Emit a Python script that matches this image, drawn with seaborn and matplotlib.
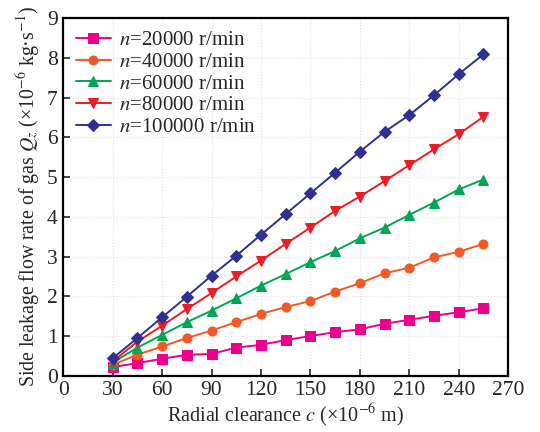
import matplotlib
matplotlib.use("Agg")
import matplotlib.pyplot as plt
import seaborn as sns
import pandas as pd

clearance = [30, 45, 60, 75, 90, 105, 120, 135, 150, 165, 180, 195, 210, 225, 240, 255]
q_20000 = [0.22, 0.32, 0.43, 0.53, 0.55, 0.71, 0.78, 0.90, 1.00, 1.10, 1.17, 1.31, 1.41, 1.51, 1.60, 1.70]
q_40000 = [0.28, 0.53, 0.74, 0.95, 1.14, 1.35, 1.56, 1.73, 1.88, 2.12, 2.33, 2.58, 2.72, 2.98, 3.12, 3.32]
q_60000 = [0.33, 0.71, 1.03, 1.35, 1.64, 1.95, 2.27, 2.56, 2.86, 3.14, 3.46, 3.73, 4.05, 4.36, 4.69, 4.94]
q_80000 = [0.36, 0.86, 1.26, 1.68, 2.08, 2.50, 2.90, 3.32, 3.73, 4.15, 4.51, 4.90, 5.30, 5.70, 6.08, 6.52]
q_100000 = [0.44, 0.95, 1.47, 1.99, 2.52, 3.02, 3.55, 4.07, 4.59, 5.11, 5.64, 6.14, 6.56, 7.06, 7.59, 8.09]
labels = ["$n$=20000 r/min", "$n$=40000 r/min", "$n$=60000 r/min", "$n$=80000 r/min", "$n$=100000 r/min"]

series = [q_20000, q_40000, q_60000, q_80000, q_100000]
rows = []
for lab, vals in zip(labels, series):
    for x, y in zip(clearance, vals):
        rows.append({"c": x, "Q": y, "speed": lab})
df = pd.DataFrame(rows)

sns.set_style("white")
plt.rcParams["font.family"] = ["Liberation Serif", "DejaVu Serif"]
plt.rcParams["mathtext.fontset"] = "stix"

colors = ["#EC008C", "#F15A24", "#00A651", "#ED1C24", "#2E3192"]
markers = ["s", "o", "^", "v", "D"]
palette = dict(zip(labels, colors))
mdict = dict(zip(labels, markers))

fig = plt.figure(figsize=(5.4, 4.32), dpi=100)
ax = fig.add_axes([0.117, 0.13, 0.824, 0.828])

sns.lineplot(data=df, x="c", y="Q", hue="speed", style="speed", palette=palette,
             markers=mdict, dashes=False, markersize=6.5,
             linewidth=1.4, ax=ax, legend=True)
for ln in ax.lines:
    ln.set_markeredgecolor(ln.get_color())

ax.set_xlim(0, 270)
ax.set_ylim(0, 9)
ax.set_xticks(range(0, 271, 30))
ax.set_yticks(range(0, 10))
ax.grid(True, color="#e2e2e2", linestyle=":", linewidth=0.8)
for s in ax.spines.values():
    s.set_color("black")
    s.set_linewidth(1.6)
ax.tick_params(axis="both", direction="in", length=5, width=1.2, labelsize=15.5,
               bottom=True, left=True, top=False, right=False, pad=4)
ax.set_xlabel("Radial clearance $c$ (×10$^{-6}$ m)", fontsize=14.5, labelpad=1)
ax.set_ylabel("Side leakage flow rate of gas $Q_z$ (×10$^{-6}$ kg·s$^{-1}$)", fontsize=14.3, labelpad=3)

leg = ax.legend(loc="upper left", frameon=False, fontsize=15, handlelength=1.7,
                borderaxespad=0.2, labelspacing=0.1, handletextpad=0.4)
for h in leg.legend_handles:
    h.set_markeredgecolor(h.get_color())

fig.savefig("out.png", dpi=100)
